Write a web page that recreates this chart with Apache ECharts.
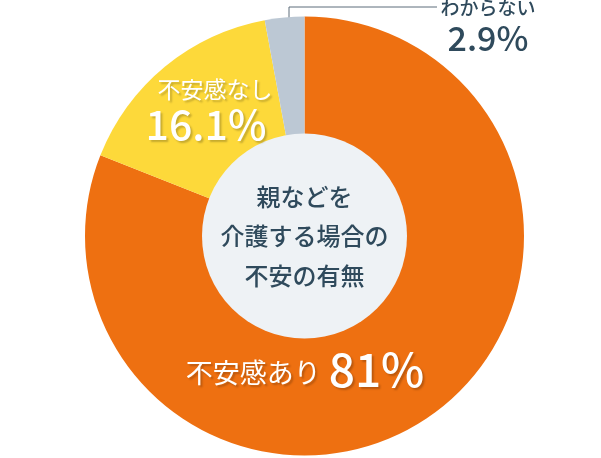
<!DOCTYPE html>
<html>
<head>
<meta charset="utf-8">
<style>
  html, body { margin: 0; padding: 0; background: #fff; }
  #chart { width: 601px; height: 458px; }
</style>
<script src="https://cdn.jsdelivr.net/npm/echarts@6/dist/echarts.min.js"></script>
</head>
<body>
<div id="chart"></div>
<script>
// データ
var categories = ['不安感あり', '不安感なし', 'わからない'];
var values = [81, 16.1, 2.9];
var valueLabels = ['81%', '16.1%', '2.9%'];
var colors = ['#ee7011', '#fdd93a', '#bcc8d4'];
var centerTitle = '親などを\n介護する場合の\n不安の有無';

var FONT = '"Noto Sans CJK JP", "Noto Sans", sans-serif';
var CX = 304.5, CY = 236;

var chart = echarts.init(document.getElementById('chart'));

// ラベル位置（px）
var labelPos = [
    { x: 305, y: 370 },
    { x: 206, y: 109 },
    { x: 488, y: 26 }
];

var shadow = {
    textShadowColor: 'rgba(0,0,0,0.22)',
    textShadowBlur: 2,
    textShadowOffsetX: 2,
    textShadowOffsetY: 2
};

var pieData = categories.map(function (name, i) {
    var item = {
        name: name,
        value: values[i],
        itemStyle: { color: colors[i] }
    };
    if (i === 0) {
        item.label = {
            formatter: '{a|' + name + '}{b|' + valueLabels[i] + '}'
        };
    } else if (i === 1) {
        item.label = {
            formatter: '{e|' + name + '}\n{f|' + valueLabels[i] + '}'
        };
    } else {
        item.label = {
            position: 'outside',
            formatter: '{c|' + name + '}\n{d|' + valueLabels[i] + '}'
        };
        item.labelLine = {
            show: true,
            lineStyle: { color: '#5d6d7a', width: 1 }
        };
    }
    return item;
});

var option = {
    backgroundColor: '#fff',
    animation: false,
    series: [
        {
            type: 'pie',
            center: [CX, CY],
            radius: [0, 219.5],
            startAngle: 90,
            clockwise: true,
            silent: true,
            label: {
                show: true,
                position: 'inside',
                fontFamily: FONT,
                rich: {
                    a: Object.assign({ color: '#fff', fontSize: 27, fontFamily: FONT, padding: [6, 8, 0, 0] }, shadow),
                    b: Object.assign({ color: '#fff', fontSize: 46, fontFamily: FONT, fontWeight: 500, lineHeight: 48 }, shadow),
                    e: Object.assign({ color: '#fff', fontSize: 23, fontFamily: FONT, lineHeight: 30, padding: [0, 0, 0, 18] }, shadow),
                    f: Object.assign({ color: '#fff', fontSize: 41, fontFamily: FONT, fontWeight: 500, lineHeight: 40 }, shadow),
                    c: { color: '#2f4a5c', fontSize: 19, fontFamily: FONT, fontWeight: 500, lineHeight: 24 },
                    d: { color: '#2f4a5c', fontSize: 34, fontFamily: FONT, fontWeight: 500, lineHeight: 36 }
                }
            },
            labelLine: { show: false },
            labelLayout: function (params) {
                var p = labelPos[params.dataIndex];
                var res = { x: p.x, y: p.y, align: 'center', verticalAlign: 'middle' };
                if (params.dataIndex === 2) {
                    res.labelLinePoints = [[289, 44], [289, 7], [437, 7]];
                }
                return res;
            },
            data: pieData
        },
        {
            type: 'pie',
            center: [CX, CY],
            radius: [0, 102.5],
            silent: true,
            label: {
                show: true,
                position: 'center',
                formatter: centerTitle,
                color: '#2f4a5c',
                fontSize: 24,
                fontWeight: 500,
                lineHeight: 39.5,
                fontFamily: FONT
            },
            labelLine: { show: false },
            data: [{ value: 1, name: '', itemStyle: { color: '#eef2f5' } }]
        }
    ]
};

chart.setOption(option);
</script>
</body>
</html>
